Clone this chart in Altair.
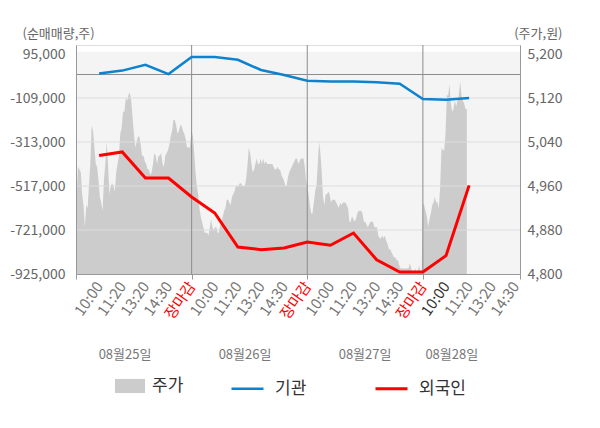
import altair as alt
import pandas as pd

FONT = "Noto Sans CJK KR"

# ---------------- data ----------------
tick_labels = ["10:00", "11:20", "13:20", "14:30", "장마감"] * 3 + ["10:00", "11:20", "13:20", "14:30"]
slots = list(range(1, 18))
inst_net = [5000, 18000, 45000, 2000, 81000, 81000, 68000, 21000, -2000,
            -29000, -33000, -33000, -36000, -43000, -114000, -117000, -109000]
foreign_net = [-376000, -359000, -480000, -480000, -568000, -642000, -800000, -812000, -804000,
               -777000, -792000, -735000, -859000, -916000, -916000, -840000, -514000]

price_d1 = [4945, 4995, 4990, 4985, 4945, 4925, 4885, 4925, 4920, 4960, 5000, 5070, 5060, 5030,
            5000, 4995, 4970, 4940, 4930, 4915, 4970, 5000, 5040, 5000, 4945, 4960, 4965, 4960,
            4950, 4985, 5000, 5015, 5055, 5065, 5095, 5095, 5120, 5115, 5125, 5130, 5115, 5085,
            5055, 5030, 5040, 5050, 5050, 5035, 5015, 5015, 5005, 5000, 4990, 4990, 4980, 4985,
            5000, 5020, 5015, 5000, 5015, 5015, 5020, 5000, 4995, 5015, 5020, 5025, 5035, 5050,
            5060, 5080, 5080, 5070, 5055, 5060, 5070, 5070, 5060, 5055, 5045, 5030, 5030, 5030]
price_d2 = [5060, 5050, 5020, 4985, 4960, 4945, 4920, 4905, 4895, 4885, 4875, 4875, 4875, 4870,
            4885, 4900, 4885, 4880, 4885, 4885, 4875, 4875, 4890, 4895, 4905, 4915, 4920, 4935,
            4935, 4930, 4925, 4940, 4945, 4950, 4960, 4960, 4960, 4965, 4965, 4960, 4960, 4960,
            4975, 5000, 5030, 5020, 5000, 4985, 4990, 5000, 5010, 5000, 5000, 5010, 5000, 5010,
            5000, 5005, 5000, 5000, 5000, 5000, 5000, 4995, 4990, 4990, 4995, 4990, 4990, 4980,
            4975, 4970, 4960, 4960, 4975, 4985, 4990, 4995, 5000, 5005, 5010, 5010, 5000, 5005,
            5010, 5010, 5010, 4995, 4970]
price_d3 = [4960, 4945, 4925, 4910, 4910, 4930, 4950, 4960, 5000, 5040, 5020, 4985, 4940, 4925,
            4945, 4945, 4950, 4945, 4930, 4935, 4935, 4935, 4930, 4925, 4920, 4930, 4925, 4930,
            4930, 4930, 4925, 4920, 4895, 4895, 4905, 4900, 4895, 4900, 4910, 4915, 4915, 4915,
            4910, 4895, 4895, 4890, 4885, 4890, 4895, 4895, 4895, 4885, 4885, 4885, 4870, 4865,
            4865, 4870, 4865, 4870, 4860, 4855, 4845, 4845, 4840, 4835, 4830, 4830, 4825, 4825,
            4815, 4810, 4810, 4810, 4810, 4810, 4810, 4810, 4820, 4810, 4805, 4805, 4810, 4805,
            4805, 4815, 4805, 4805]
price_d4 = [4930, 4925, 4915, 4905, 4885, 4900, 4910, 4925, 4930, 4940, 4930, 4930, 4920, 4960,
            5030, 5025, 5025, 5055, 5125, 5125, 5145, 5110, 5095, 5100, 5115, 5105, 5115, 5125,
            5150, 5125, 5115, 5110, 5100, 5100]
day_spans = [(0.03, 4.92), (5.0, 9.95), (10.0, 14.95), (15.0, 16.9)]

date_labels = ["08월25일", "08월26일", "08월27일", "08월28일"]
date_pos = [2.12, 7.31, 12.5, 16.25]
left_ticks = [-925000, -721000, -517000, -313000, -109000, 95000]
right_ticks = [4800, 4880, 4960, 5040, 5120, 5200]
day_bounds = [5, 10, 15]
x_domain = [0, 19.2]
left_domain = [-925000, 136728]
right_domain = [4800, 5216.4]

# ---------------- tables ----------------
px, pv = [], []
for prices, (a, b) in zip([price_d1, price_d2, price_d3, price_d4], day_spans):
    n = len(prices)
    for i, p in enumerate(prices):
        px.append(a + (b - a) * i / (n - 1))
        pv.append(p)
price_df = pd.DataFrame({"x": px, "price": pv, "s": "주가"})

lines_df = pd.DataFrame({
    "x": slots + slots,
    "value": inst_net + foreign_net,
    "series": ["기관"] * len(slots) + ["외국인"] * len(slots),
})
bg_df = pd.DataFrame({"x0": [x_domain[0]], "x1": [x_domain[1]], "p0": [4800], "p1": [5204]})
grid_df = pd.DataFrame({"v": [v for v in left_ticks if v not in (left_ticks[0], left_ticks[-1])]})
zero_df = pd.DataFrame({"v": [0]})
vline_df = pd.DataFrame({"x": day_bounds})
date_df = pd.DataFrame({"x": date_pos, "label": date_labels})

# ---------------- axes ----------------
arr = "[" + ",".join("'" + t + "'" for t in tick_labels) + "]"
label_expr = f"(datum.value >= 1 && datum.value <= {len(tick_labels)}) ? {arr}[round(datum.value) - 1] : ''"
red_idx = [i + 1 for i, t in enumerate(tick_labels) if t == "장마감"]
red_test = " || ".join(f"datum.value == {i}" for i in red_idx)
tick_vals = [0] + day_bounds
tick_test = " || ".join(f"datum.value == {v}" for v in tick_vals) + f" || datum.value > {x_domain[1] - 0.1}"

x_axis = alt.Axis(
    values=list(range(0, len(tick_labels) + 1)) + [x_domain[1]],
    labelExpr=label_expr,
    labelAngle=-55,
    labelAlign="right",
    labelBaseline="middle",
    labelFontSize=15,
    labelFont=FONT,
    labelColor={"condition": [{"test": red_test, "value": "#ff0000"},
                              {"test": "datum.value == 16", "value": "#333333"}],
                "value": "#777777"},
    labelOverlap=False,
    labelFlush=False,
    labelPadding=4,
    tickColor="#999999",
    tickSize=5,
    tickOpacity={"condition": {"test": tick_test, "value": 1}, "value": 0},
    domainColor="#999999",
    grid=False,
    title=None,
    zindex=1,
)
x_scale = alt.Scale(domain=x_domain, nice=False, zero=False)


def X(field):
    return alt.X(field + ":Q", scale=x_scale, axis=x_axis)


minus_fix = "replace(format(datum.value, ','), '\u2212', '-')"
left_axis = alt.Axis(
    orient="left", values=left_ticks, labelExpr=minus_fix, grid=False, ticks=False,
    labelPadding=11, labelFontSize=14, labelColor="#666666", labelFont=FONT,
    domainColor="#999999", zindex=1,
    title="(순매매량,주)", titleAngle=0, titleAlign="left", titleBaseline="middle",
    titleX=-54, titleY=-12, titleFontSize=13, titleFontWeight="normal", titleColor="#666666",
    titleFont=FONT,
)
left_scale = alt.Scale(domain=left_domain, nice=False, zero=False)

right_axis = alt.Axis(
    orient="right", values=right_ticks, labelExpr="format(datum.value, ',')", grid=False, ticks=False,
    labelPadding=7, labelFontSize=14, labelColor="#666666", labelFont=FONT,
    domainColor="#999999", zindex=1,
    title="(주가,원)", titleAngle=0, titleAlign="right", titleBaseline="middle",
    titleX=42, titleY=-12, titleFontSize=13, titleFontWeight="normal", titleColor="#666666",
    titleFont=FONT,
)
right_scale = alt.Scale(domain=right_domain, nice=False, zero=False)


def YL(field):
    return alt.Y(field + ":Q", scale=left_scale, axis=left_axis)


def YR(field):
    return alt.Y(field + ":Q", scale=right_scale, axis=right_axis)


# ---------------- layers ----------------
bg = alt.Chart(bg_df).mark_rect(color="#f4f4f4").encode(
    x=X("x0"), x2="x1", y=YR("p0"), y2="p1"
)
area = alt.Chart(price_df).mark_area(interpolate="linear", opacity=1).encode(
    x=X("x"),
    y=YR("price"),
    y2=alt.datum(4800),
    fill=alt.Fill("s:N", scale=alt.Scale(domain=["주가"], range=["#cccccc"]),
                  legend=alt.Legend(orient="none", legendX=39, legendY=326, title=None,
                                    symbolType="M-1,-0.47H1V0.47H-1Z", symbolSize=900,
                                    symbolStrokeWidth=0, symbolOpacity=1,
                                    labelFontSize=17, labelColor="#333333", labelFont=FONT,
                                    labelOffset=7)),
)
right_layer = alt.layer(bg, area)

grid = alt.Chart(grid_df).mark_rule(color="#dddddd", strokeWidth=1).encode(y=YL("v"))
zero = alt.Chart(zero_df).mark_rule(color="#8c8c8c", strokeWidth=1).encode(y=YL("v"))
vlines = alt.Chart(vline_df).mark_rule(color="#8c8c8c", strokeWidth=1).encode(x=X("x"))
lines = alt.Chart(lines_df).mark_line().encode(
    x=X("x"),
    y=YL("value"),
    stroke=alt.Stroke("series:N",
                      scale=alt.Scale(domain=["기관", "외국인"], range=["#0d82cf", "#ff0000"]),
                      legend=alt.Legend(orient="none", legendX=154, legendY=326, title=None,
                                        direction="horizontal", symbolType="stroke",
                                        symbolSize=1024, symbolStrokeWidth=3,
                                        labelFontSize=17, labelColor="#333333", labelFont=FONT,
                                        labelOffset=10, columnPadding=62)),
    strokeWidth=alt.StrokeWidth("series:N",
                                scale=alt.Scale(domain=["기관", "외국인"], range=[2.5, 3]),
                                legend=None),
)
dates = alt.Chart(date_df).mark_text(fontSize=13, color="#777777", font=FONT, baseline="middle").encode(
    x=X("x"), y=alt.value(310), text="label:N"
)
left_layer = alt.layer(grid, zero, vlines, lines, dates)

chart = alt.layer(right_layer, left_layer).resolve_scale(y="independent").properties(
    width=444,
    height=229,
    autosize=alt.AutoSizeParams(type="none"),
    padding={"left": 68, "top": 37, "right": 72, "bottom": 140},
).configure_view(stroke=None).configure(font=FONT)

chart.save("out.html", embed_options={"renderer": "svg", "actions": False})
